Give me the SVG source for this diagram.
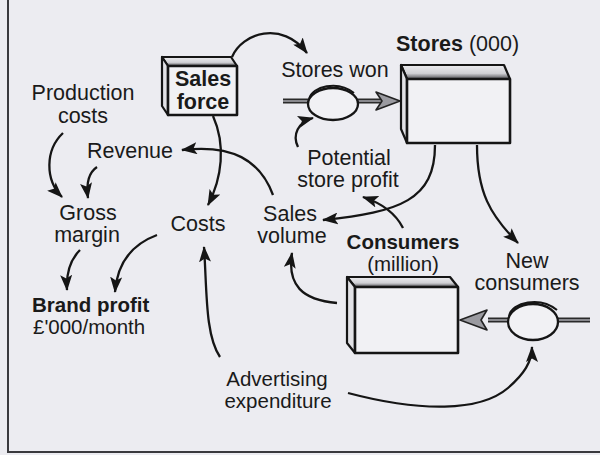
<svg xmlns="http://www.w3.org/2000/svg" width="600" height="455" viewBox="0 0 600 455">
<defs>
<style>
text{font-family:"Liberation Sans",Arial,sans-serif;font-size:21.5px;fill:#1a1a1a}
.b{font-weight:bold}
.m{text-anchor:middle}
.s{font-size:20.5px}
.box{fill:#f1f1f4;stroke:#151515;stroke-width:2.6;stroke-linejoin:round}
.side{fill:#e2e2e6;stroke:#151515;stroke-width:2.2;stroke-linejoin:round}
.top{fill:url(#topg);stroke:#151515;stroke-width:2.2;stroke-linejoin:round}
.link{fill:none;stroke:#151515;stroke-width:2.3;marker-end:url(#ah)}
.pipeo{fill:none;stroke:#2a2a2a;stroke-width:5}
.pipei{fill:none;stroke:#a8a8ae;stroke-width:1.6}
.valve{fill:#f1f1f4;stroke:#151515;stroke-width:2.3}
.lid{fill:none;stroke:#151515;stroke-width:2}
.flowhead{fill:#9a9aa0;stroke:#222;stroke-width:1.6;stroke-linejoin:round}
</style>
<linearGradient id="topg" x1="0" y1="0" x2="0" y2="1">
<stop offset="0" stop-color="#ededf0"/>
<stop offset="0.6" stop-color="#d0d0d4"/>
<stop offset="1" stop-color="#505054"/>
</linearGradient>
<marker id="ah" viewBox="0 0 16 12" refX="15" refY="6" markerWidth="16" markerHeight="12" markerUnits="userSpaceOnUse" orient="auto">
<path d="M0,0 L16,6 L0,12 L3.5,6 z" fill="#151515"/>
</marker>
</defs>
<rect x="0" y="0" width="600" height="455" fill="#ececf1"/>
<path d="M8,0 V452 H600" fill="none" stroke="#3a3a3e" stroke-width="2"/>

<g id="connectors">
<path class="link" d="M232,57 C242,33 282,20 307,53"/>
<path class="link" d="M213,116 C226,145 222,178 208,205"/>
<path class="link" d="M273,195 C260,160 232,144 182,150"/>
<path class="link" d="M63,133 C45,150 45,180 62,197"/>
<path class="link" d="M97,167 C88,173 86,183 88,198"/>
<path class="link" d="M80,250 C70,260 66,272 67,290"/>
<path class="link" d="M157,235 C130,245 117,266 115,292"/>
<path class="link" d="M220,357 C205,335 207,290 204,247"/>
<path class="link" d="M337,303 C302,300 287,285 292,253"/>
<path class="link" d="M435,145 C435,200 400,212 323,220"/>
<path class="link" d="M403,228 C395,212 381,203 363,197"/>
<path class="link" d="M298,147 C292,135 298,122 313,118"/>
<path class="link" d="M477,145 C477,192 490,215 518,243"/>
<path class="link" d="M348,393 C420,412 480,412 508,388 C524,374 532,362 532,347"/>
</g>

<g id="stores-won">
<path class="pipeo" d="M283,101 H308 M357,101 H381"/>
<path class="pipei" d="M283,101 H308 M357,101 H381"/>
<path class="flowhead" d="M400,101 L376,92 L382,101 L376,110 z"/>
<ellipse class="valve" cx="333" cy="104" rx="25" ry="16"/>
<path class="lid" d="M309,99 C312,86 338,80 354,93"/>
<text class="m" x="335" y="77">Stores won</text>
</g>

<g id="new-consumers">
<path class="pipeo" d="M488,320 H509 M557,320 H590"/>
<path class="pipei" d="M488,320 H509 M557,320 H590"/>
<path class="flowhead" d="M460,320 L487,310 L481,320 L487,330 z"/>
<ellipse class="valve" cx="533" cy="322" rx="25" ry="18"/>
<path class="lid" d="M509,316 C512,302 540,296 557,310"/>
<text class="m" x="527" y="268">New</text>
<text class="m" x="527" y="290">consumers</text>
</g>

<g id="sales-force">
<polygon class="top" points="168,66 237,66 231,57 162,57"/>
<polygon class="side" points="168,66 162,57 162,106 168,115"/>
<rect class="box" x="168" y="66" width="69" height="49"/>
<text class="m b" x="203" y="86">Sales</text>
<text class="m b" x="203" y="109">force</text>
</g>

<g id="stores">
<polygon class="top" points="407,79 510,79 504,65 401,65"/>
<polygon class="side" points="407,79 401,65 401,129 407,143"/>
<rect class="box" x="407" y="79" width="103" height="64"/>
<text x="396" y="51"><tspan class="b">Stores</tspan> (000)</text>
</g>

<g id="consumers">
<polygon class="top" points="355,287 458,287 450,277 347,277"/>
<polygon class="side" points="355,287 347,277 347,343 355,353"/>
<rect class="box" x="355" y="287" width="103" height="66"/>
<text class="m b s" x="403" y="249">Consumers</text>
<text class="m s" x="403" y="271">(million)</text>
</g>

<g id="production-costs">
<text class="m" x="83" y="100">Production</text>
<text class="m" x="83" y="123">costs</text>
</g>
<g id="revenue"><text class="m" x="130" y="158">Revenue</text></g>
<g id="gross-margin">
<text class="m" x="88" y="220">Gross</text>
<text class="m" x="87" y="242">margin</text>
</g>
<g id="costs"><text class="m" x="198" y="231">Costs</text></g>
<g id="sales-volume">
<text class="m" x="290" y="221">Sales</text>
<text class="m" x="292" y="243">volume</text>
</g>
<g id="potential-store-profit">
<text class="m" x="349" y="165">Potential</text>
<text class="m" x="348" y="187">store profit</text>
</g>
<g id="brand-profit">
<text class="b s" x="32" y="312">Brand profit</text>
<text class="s" x="33" y="334">£'000/month</text>
</g>
<g id="advertising-expenditure">
<text class="m s" x="277" y="386">Advertising</text>
<text class="m s" x="278" y="408">expenditure</text>
</g>
</svg>
